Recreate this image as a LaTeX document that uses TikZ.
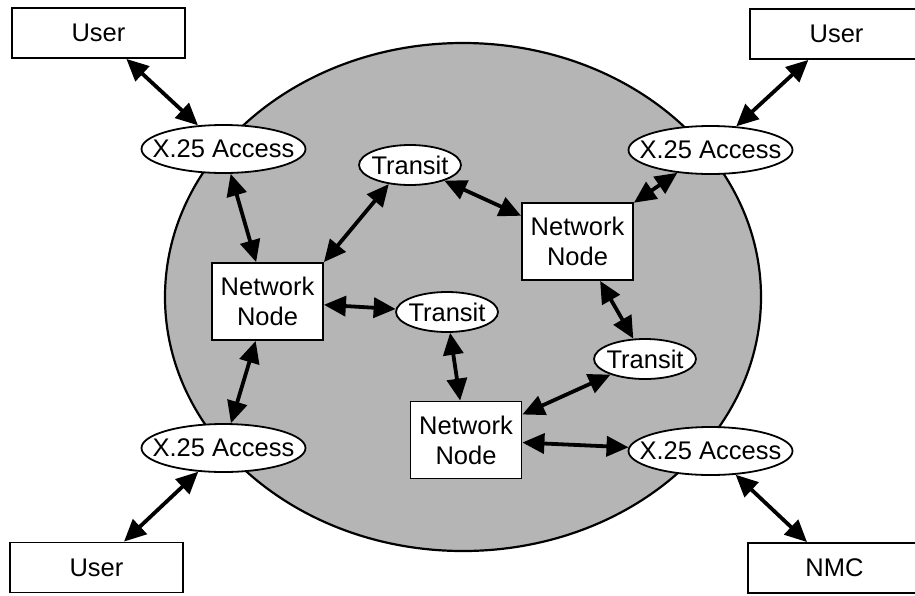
\documentclass[tikz,border=0pt]{standalone}
\usepackage{fontspec}
\setmainfont{Liberation Sans}
\usetikzlibrary{arrows.meta,shapes.geometric}

\begin{document}
\begin{tikzpicture}[x=1pt,y=-1pt,
  lbl/.style={font=\fontsize{25.5}{30}\selectfont},
  userbox/.style={draw, line width=1.8pt, fill=white, inner sep=0pt,
    minimum width=173pt, minimum height=50pt, lbl},
  netnode/.style={draw, line width=1.8pt, fill=white, inner sep=0pt,
    minimum width=111pt, minimum height=77pt, align=center, lbl},
  access/.style={draw, ellipse, line width=1.8pt, fill=white, inner sep=0pt,
    minimum width=164pt, minimum height=48pt, lbl},
  transit/.style={draw, ellipse, line width=1.8pt, fill=white, inner sep=0pt,
    minimum width=102pt, minimum height=40pt, lbl},
  link/.style={line width=3.8pt,
    {Triangle[length=22pt,width=20pt]}-{Triangle[length=22pt,width=20pt]}},
  cloud/.style={draw, line width=2.2pt, fill=black!29}]

  \clip (0,0) rectangle (915,595);

  % network cloud
  \draw[cloud] (463,297) ellipse [x radius=298, y radius=254];

  % end systems
  \node[userbox] (userTL) at (98.5,33)   {User};
  \node[userbox] (userTR) at (836.5,34)  {User};
  \node[userbox] (userBL) at (96.5,567.5){User};
  \node[userbox] (nmc)    at (834.5,568) {NMC};

  % access points
  \node[access] (accTL) at (223.5,149) {\makebox[0pt]{X.25 Access}};
  \node[access] (accTR) at (710.5,150) {\makebox[0pt]{X.25 Access}};
  \node[access] (accBL) at (223.5,448) {\makebox[0pt]{X.25 Access}};
  \node[access] (accBR) at (710.5,451) {\makebox[0pt]{X.25 Access}};

  % transit nodes
  \node[transit] (trT) at (410,165) {\makebox[0pt]{Transit}};
  \node[transit] (trM) at (447,312) {\makebox[0pt]{Transit}};
  \node[transit] (trR) at (645,359) {\makebox[0pt]{Transit}};

  % network nodes
  \node[netnode] (nnL) at (267.5,301.5) {Network\\Node};
  \node[netnode] (nnT) at (577.5,241.5) {Network\\Node};
  \node[netnode] (nnB) at (466,440)     {Network\\Node};

  % links
  \draw[link] (userTL) -- (accTL);
  \draw[link] (userTR) -- (accTR);
  \draw[link] (accBL) -- (userBL);
  \draw[link] (accBR) -- (nmc);
  \draw[link] (accTL) -- (nnL);
  \draw[link] (nnL) -- (accBL);
  \draw[link] (nnL.north east) -- (trT.222);
  \draw[link] (trT) -- (nnT);
  \draw[link] (nnT) -- (accTR);
  \draw[link] (nnL) -- (trM);
  \draw[link] (nnT) -- (trR);
  \draw[link] (trM) -- (nnB);
  \draw[link] (trR) -- (nnB);
  \draw[link] (nnB) -- (accBR);
\end{tikzpicture}
\end{document}
